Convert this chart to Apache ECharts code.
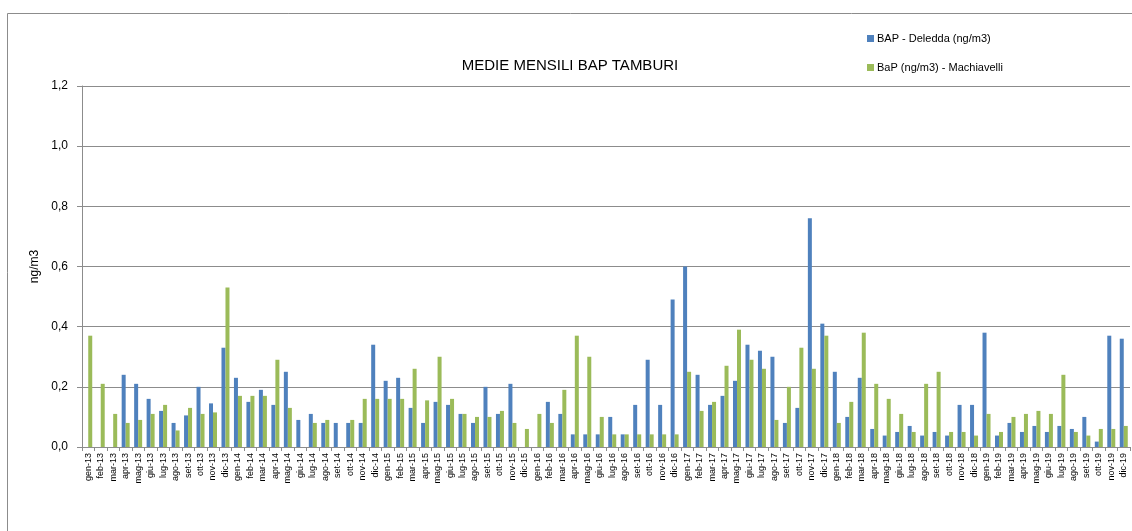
<!DOCTYPE html>
<html>
<head>
<meta charset="utf-8">
<script src="https://cdn.jsdelivr.net/npm/echarts@6/dist/echarts.min.js"></script>
<style>
  html, body { margin: 0; padding: 0; background: #fff; }
  #chart { width: 1132px; height: 531px; }
</style>
</head>
<body>
<div id="chart"></div>
<script>
const MONTHS = ['gen', 'feb', 'mar', 'apr', 'mag', 'giu', 'lug', 'ago', 'set', 'ott', 'nov', 'dic']
const YEARS = ['13', '14', '15', '16', '17', '18', '19']
const CATEGORIES = YEARS.flatMap(y => MONTHS.map(m => `${m}-${y}`))

// BAP - Deledda (ng/m3), gen-13 .. dic-19
const DELEDDA = [
  null, null, null, 0.24, 0.21, 0.16, 0.12, 0.08, 0.105, 0.20, 0.145, 0.33,
  0.23, 0.15, 0.19, 0.14, 0.25, 0.09, 0.11, 0.08, 0.08, 0.08, 0.08, 0.34,
  0.22, 0.23, 0.13, 0.08, 0.15, 0.14, 0.11, 0.08, 0.20, 0.11, 0.21, null,
  null, 0.15, 0.11, 0.042, 0.042, 0.042, 0.10, 0.042, 0.14, 0.29, 0.14, 0.49,
  0.60, 0.24, 0.14, 0.17, 0.22, 0.34, 0.32, 0.30, 0.08, 0.13, 0.76, 0.41,
  0.25, 0.10, 0.23, 0.06, 0.038, 0.05, 0.07, 0.038, 0.05, 0.038, 0.14, 0.14,
  0.38, 0.038, 0.08, 0.05, 0.07, 0.05, 0.07, 0.06, 0.10, 0.018, 0.37, 0.36
]

// BaP (ng/m3) - Machiavelli
const MACHIAVELLI = [
  0.37, 0.21, 0.11, 0.08, 0.09, 0.11, 0.14, 0.055, 0.13, 0.11, 0.115, 0.53,
  0.17, 0.17, 0.17, 0.29, 0.13, null, 0.08, 0.09, null, 0.09, 0.16, 0.16,
  0.16, 0.16, 0.26, 0.155, 0.30, 0.16, 0.11, 0.10, 0.10, 0.12, 0.08, 0.06,
  0.11, 0.08, 0.19, 0.37, 0.30, 0.10, 0.042, 0.042, 0.042, 0.042, 0.042, 0.042,
  0.25, 0.12, 0.15, 0.27, 0.39, 0.29, 0.26, 0.09, 0.20, 0.33, 0.26, 0.37,
  0.08, 0.15, 0.38, 0.21, 0.16, 0.11, 0.05, 0.21, 0.25, 0.05, 0.05, 0.038,
  0.11, 0.05, 0.10, 0.11, 0.12, 0.11, 0.24, 0.05, 0.038, 0.06, 0.06, 0.07
]

const FONT = '"Liberation Sans", "DejaVu Sans", sans-serif'
const GRID_COLOR = '#8c8c8c'

const chart = echarts.init(document.getElementById('chart'), null, { renderer: 'canvas' })

chart.setOption({
  animation: false,
  backgroundColor: '#fff',
  textStyle: { fontFamily: FONT },
  graphic: [
    {
      type: 'rect',
      shape: { x: 7.5, y: 13.5, width: 1300, height: 700 },
      style: { fill: 'none', stroke: '#8c8c8c', lineWidth: 1 },
      silent: true
    }
  ],
  title: {
    text: 'MEDIE MENSILI BAP TAMBURI',
    left: 565,
    top: 53,
    textAlign: 'center',
    textStyle: { fontFamily: FONT, fontSize: 15, fontWeight: 'normal', color: '#000' }
  },
  legend: {
    orient: 'vertical',
    left: 862,
    top: 28,
    itemWidth: 7,
    itemHeight: 7,
    itemGap: 18,
    icon: 'rect',
    textStyle: { fontFamily: FONT, fontSize: 11, color: '#000', padding: [0, 0, 0, -2] },
    data: ['BAP - Deledda (ng/m3)', 'BaP (ng/m3) - Machiavelli']
  },
  grid: { left: 82, right: 2, top: 86, bottom: 84, containLabel: false },
  xAxis: {
    type: 'category',
    data: CATEGORIES,
    boundaryGap: true,
    axisLine: { lineStyle: { color: GRID_COLOR } },
    axisTick: { show: true, length: 4, lineStyle: { color: GRID_COLOR } },
    axisLabel: {
      interval: 0,
      rotate: 90,
      fontSize: 9,
      margin: 6,
      color: '#000',
      fontFamily: FONT
    },
    splitLine: { show: false }
  },
  yAxis: {
    type: 'value',
    min: 0,
    max: 1.2,
    interval: 0.2,
    name: 'ng/m3',
    nameLocation: 'middle',
    nameGap: 40,
    nameTextStyle: { fontFamily: FONT, fontSize: 12, color: '#000' },
    axisLine: { show: true, lineStyle: { color: GRID_COLOR } },
    axisTick: { show: true, length: 5, lineStyle: { color: GRID_COLOR } },
    axisLabel: {
      fontSize: 12,
      color: '#000',
      margin: 14,
      fontFamily: FONT,
      formatter: v => v.toFixed(1).replace('.', ',')
    },
    splitLine: { lineStyle: { color: GRID_COLOR, width: 1 } }
  },
  series: [
    {
      name: 'BAP - Deledda (ng/m3)',
      type: 'bar',
      data: DELEDDA,
      barWidth: 4,
      barGap: '0%',
      itemStyle: { color: '#4f81bd' }
    },
    {
      name: 'BaP (ng/m3) - Machiavelli',
      type: 'bar',
      data: MACHIAVELLI,
      barWidth: 4,
      itemStyle: { color: '#9bbb59' }
    }
  ]
})
</script>
</body>
</html>
